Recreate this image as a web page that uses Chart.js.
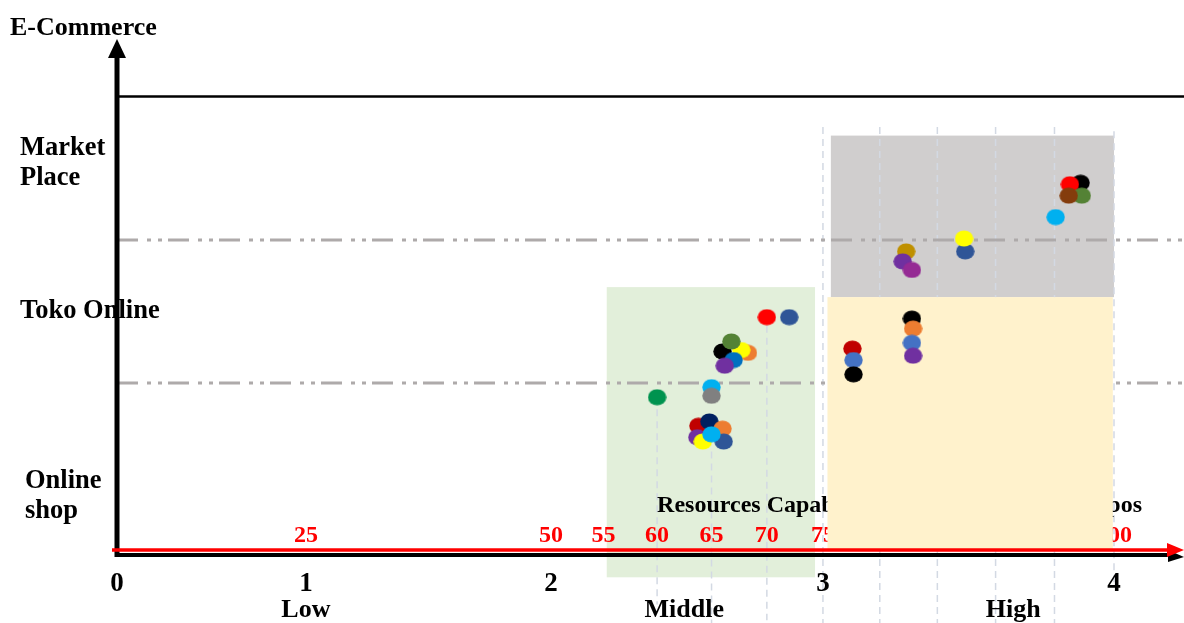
<!DOCTYPE html>
<html>
<head>
<meta charset="utf-8">
<title>E-Commerce level vs Resources Capability</title>
<script src="https://cdn.jsdelivr.net/npm/chart.js@4/dist/chart.umd.min.js"></script>
<style>
  html, body { margin: 0; padding: 0; background: #ffffff; }
  canvas { display: block; }
</style>
</head>
<body>
<canvas id="chart" width="1184" height="623"></canvas>
<script>
// ---- data -------------------------------------------------------------
// Resources capability score of each SME (x) and its e-commerce level (y):
// 0–1 = Online shop, 1–2 = Toko Online, 2–3 = Market Place.
const scoreTicks = [25, 50, 55, 60, 65, 70, 75, 100];   // red score labels
const classTicks = [0, 1, 2, 3, 4];                      // printed at score = class * 25
const classNames = ['Low', 'Middle', 'High'];
const levelNames = [['Online', 'shop'], ['Toko Online'], ['Market', 'Place']];

// middle capability, Toko Online
const midTokoScore = [70, 72, 68.3, 66, 67.7, 66.8, 67, 66.2];
const midTokoLevel = [1.46, 1.46, 1.21, 1.22, 1.23, 1.29, 1.16, 1.12];
// middle capability, Online shop
const midShopScore = [65, 65, 60, 63.8, 64.8, 66, 63.7, 64.2, 66.1, 65];
const midShopLevel = [0.97, 0.91, 0.90, 0.70, 0.73, 0.68, 0.62, 0.59, 0.59, 0.64];
// high capability, Market Place
const highMarketScore = [82.3, 82, 82.8, 87.4, 87.3, 95.1, 97.2, 96.3, 97.3, 96.2];
const highMarketLevel = [1.92, 1.85, 1.79, 1.92, 2.01, 2.16, 2.40, 2.39, 2.31, 2.31];
// high capability, Toko Online
const highTokoScore = [77.6, 77.7, 77.7, 82.8, 82.9, 82.8, 82.9];
const highTokoLevel = [1.24, 1.16, 1.06, 1.45, 1.38, 1.28, 1.19];

// ---- styles -----------------------------------------------------------
const midTokoColors    = ['#FF0000', '#2F5597', '#ED7D31', '#000000', '#FFFF00', '#548235', '#0070C0', '#7030A0'];
const midShopColors    = ['#00B0F0', '#808080', '#00934F', '#C00000', '#002060', '#ED7D31', '#7030A0', '#FFFF00', '#2F5597', '#00B0F0'];
const highMarketColors = ['#BF9000', '#7030A0', '#952A94', '#2F5597', '#FFFF00', '#00B0F0', '#000000', '#FF0000', '#548235', '#843C0C'];
const highTokoColors   = ['#C00000', '#4472C4', '#000000', '#000000', '#ED7D31', '#4472C4', '#7030A0'];

const SERIF = '"Liberation Serif", "Times New Roman", serif';

// Shaded regions of the score/level plane
const zones = {
  middle: { x: [55.3, 74.3], y: [-0.36, 1.67], color: '#E2EFDA' },
  market: { x: [75.7, 100],  y: [1.60, 2.73],  color: '#D0CECE' },
  toko:   { x: [75.4, 99.9], y: [-0.17, 1.60], color: '#FFF2CC' }
};

// Dashed drop lines at score marks (from level → to level)
const guides = [
  { x: 60, from: 0.90, to: -0.55 },
  { x: 65, from: 0.52, to: -0.69 },
  { x: 70, from: 1.40, to: -0.66 },
  { x: 75, from: 2.79, to: -0.69 },
  { x: 80, from: 2.79, to: -0.69 },
  { x: 85, from: 2.79, to: -0.69 },
  { x: 90, from: 2.79, to: -0.69 },
  { x: 95, from: 2.79, to: -0.69 },
  { x: 100, from: 2.76, to: -0.43 }
];

// ---- a power scale: the score axis widens slightly towards the top end ----
class PowerScale extends Chart.LinearScale {
  static id = 'power';
  _pw(v) {
    const p = this.options.exponent || 1;
    return Math.sign(v) * Math.pow(Math.abs(v), p);
  }
  getPixelForValue(value) {
    if (value === null || value === undefined || isNaN(value)) return NaN;
    const a = this._pw(this.min), b = this._pw(this.max);
    return this.getPixelForDecimal((this._pw(value) - a) / (b - a));
  }
  getValueForPixel(pixel) {
    const p = this.options.exponent || 1;
    const a = this._pw(this.min), b = this._pw(this.max);
    const t = a + this.getDecimalForPixel(pixel) * (b - a);
    return Math.sign(t) * Math.pow(Math.abs(t), 1 / p);
  }
}
Chart.register(PowerScale);

function points(xs, ys) { return xs.map((v, i) => ({ x: v, y: ys[i] })); }

// slightly flattened round marker, one sprite per colour
const spriteCache = {};
function oval(color) {
  if (!spriteCache[color]) {
    const c = document.createElement('canvas');
    c.width = 19; c.height = 17;
    const g = c.getContext('2d');
    g.fillStyle = color;
    g.beginPath(); g.ellipse(9.5, 8.5, 9.2, 8.1, 0, 0, Math.PI * 2); g.fill();
    spriteCache[color] = c;
  }
  return spriteCache[color];
}

// ---- axes, zones and labels ---------------------------------------------
const frame = {
  id: 'frame',
  beforeDatasetsDraw(chart) {
    const { ctx, chartArea: area, scales: { x, y } } = chart;
    const W = chart.width;
    const X0 = x.getPixelForValue(0);
    const AX = area.bottom;

    const line = (x1, y1, x2, y2) => { ctx.beginPath(); ctx.moveTo(x1, y1); ctx.lineTo(x2, y2); ctx.stroke(); };
    const tri = (pts, color) => {
      ctx.fillStyle = color; ctx.beginPath();
      ctx.moveTo(pts[0][0], pts[0][1]); ctx.lineTo(pts[1][0], pts[1][1]); ctx.lineTo(pts[2][0], pts[2][1]);
      ctx.closePath(); ctx.fill();
    };
    const text = (s, px, py, size, color, align) => {
      ctx.font = 'bold ' + size + 'px ' + SERIF;
      ctx.fillStyle = color; ctx.textAlign = align || 'center'; ctx.textBaseline = 'middle';
      ctx.fillText(s, px, py);
    };
    const zone = (z) => {
      const l = x.getPixelForValue(z.x[0]), r = x.getPixelForValue(z.x[1]);
      const t = y.getPixelForValue(z.y[1]), b = y.getPixelForValue(z.y[0]);
      ctx.fillStyle = z.color; ctx.fillRect(l, t, r - l, b - t);
    };

    ctx.save();
    zone(zones.middle);
    zone(zones.market);

    // drop lines
    ctx.strokeStyle = '#D3D9E3'; ctx.lineWidth = 1.5; ctx.setLineDash([7, 5]);
    guides.forEach(g => {
      const px = x.getPixelForValue(g.x);
      line(px, y.getPixelForValue(g.from), px, y.getPixelForValue(g.to));
    });

    // dash-dot separators between e-commerce levels
    ctx.strokeStyle = '#AEAAAA'; ctx.lineWidth = 3; ctx.setLineDash([21, 9, 4, 7, 4, 6]);
    [1, 2].forEach(v => { const py = y.getPixelForValue(v); line(X0, py, W, py); });
    ctx.setLineDash([]);

    // axis caption and red score labels
    text('Resources Capability Score of SMEs in Tempos', x.getPixelForValue(60), y.getPixelForValue(0.14), 24, '#000000', 'left');
    scoreTicks.forEach(v => text(String(v), x.getPixelForValue(v), AX - 17, 24, '#FF0000'));

    zone(zones.toko);

    // top boundary
    ctx.strokeStyle = '#000000'; ctx.lineWidth = 2.5;
    line(X0, area.top - 0.5, W, area.top - 0.5);

    // vertical axis with arrow
    ctx.lineWidth = 5;
    line(X0, AX + 4, X0, 56);
    tri([[X0, 39], [X0 - 9, 58], [X0 + 9, 58]], '#000000');

    // horizontal axis (black) with arrow
    ctx.lineWidth = 4;
    line(X0 - 2, AX + 2, W - 14, AX + 2);
    tri([[W, AX + 4], [W - 16, AX - 3], [W - 16, AX + 9]], '#000000');

    // red score axis with arrow
    ctx.strokeStyle = '#FF0000'; ctx.lineWidth = 3.5;
    line(X0 - 5, AX - 3, W - 16, AX - 3);
    tri([[W, AX - 3], [W - 17, AX - 10], [W - 17, AX + 4]], '#FF0000');

    // class numbers and names
    classTicks.forEach(c => text(String(c), x.getPixelForValue(c * 25), AX + 31, 27, '#000000'));
    const classAt = [25, 62.5, 91.5];
    classNames.forEach((n, i) => text(n, x.getPixelForValue(classAt[i]), AX + 57, 26, '#000000'));

    // e-commerce level names
    const levelAt = [0.205, 1.50, 2.535];
    const levelLeft = [25, 20, 20];
    levelNames.forEach((rows, i) => {
      const cy = y.getPixelForValue(levelAt[i]);
      rows.forEach((r, k) => text(r, levelLeft[i], cy + (k - (rows.length - 1) / 2) * 30, 26.5, '#000000', 'left'));
    });
    text('E-Commerce', 10, 28, 26, '#000000', 'left');
    ctx.restore();
  }
};

function series(label, xs, ys, colors) {
  return {
    label: label,
    data: points(xs, ys),
    backgroundColor: colors,
    pointStyle: colors.map(oval),
    pointRadius: 9,
    pointHoverRadius: 9,
    borderWidth: 0,
    clip: false
  };
}

new Chart(document.getElementById('chart'), {
  type: 'scatter',
  data: {
    datasets: [
      series('Middle – Toko Online', midTokoScore, midTokoLevel, midTokoColors),
      series('Middle – Online shop', midShopScore, midShopLevel, midShopColors),
      series('High – Market Place', highMarketScore, highMarketLevel, highMarketColors),
      series('High – Toko Online', highTokoScore, highTokoLevel, highTokoColors)
    ]
  },
  options: {
    responsive: false,
    animation: false,
    devicePixelRatio: 1,
    events: [],
    layout: { padding: { left: 117, right: 70, top: 97, bottom: 70 } },
    plugins: { legend: { display: false }, tooltip: { enabled: false } },
    scales: {
      x: { type: 'power', exponent: 1.2, min: 0, max: 100, display: false },
      y: { type: 'linear', min: -0.19, max: 3.0, display: false }
    }
  },
  plugins: [frame]
});
</script>
</body>
</html>
